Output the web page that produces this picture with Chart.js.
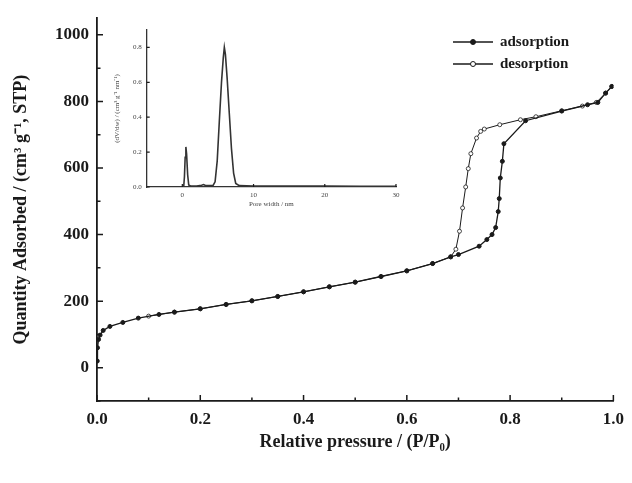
<!DOCTYPE html>
<html>
<head>
<meta charset="utf-8">
<script src="https://cdn.jsdelivr.net/npm/chart.js@4.4.1/dist/chart.umd.min.js"></script>
<style>
  body { margin: 0; background: #fff; }
  #wrap { position: relative; width: 632px; height: 483px; }
  #main { position: absolute; left: 0; top: 0; }
  #inset { position: absolute; left: 100px; top: 20px; }
</style>
</head>
<body>
<div id="wrap">
  <canvas id="main" width="632" height="483"></canvas>
  <canvas id="inset" width="305" height="200"></canvas>
</div>
<script>
// isotherm, adsorption branch (P/P0, cm3/g)
const adsX = [0.0005, 0.001, 0.003, 0.006, 0.012, 0.025, 0.05, 0.08, 0.12, 0.15, 0.2, 0.25, 0.3, 0.35, 0.4, 0.45, 0.5, 0.55, 0.6, 0.65, 0.685, 0.7, 0.74, 0.755, 0.765, 0.772, 0.777, 0.779, 0.781, 0.785, 0.788, 0.83, 0.9, 0.95, 0.97, 0.985, 0.997];
const adsY = [20, 60, 85, 98, 112, 124, 136, 149, 160, 167, 177, 190, 201, 214, 228, 243, 257, 274, 291, 313, 333, 340, 365, 385, 400, 421, 469, 508, 570, 620, 673, 742, 771, 790, 797, 825, 845];
// desorption branch
const desX = [0.997, 0.985, 0.967, 0.94, 0.9, 0.85, 0.82, 0.78, 0.75, 0.743, 0.735, 0.724, 0.719, 0.714, 0.708, 0.702, 0.695, 0.685, 0.65, 0.6, 0.55, 0.5, 0.45, 0.4, 0.35, 0.3, 0.25, 0.2, 0.15, 0.1];
const desY = [845, 825, 797, 786, 772, 754, 745, 730, 717, 710, 690, 643, 598, 543, 480, 410, 356, 333, 313, 291, 274, 257, 243, 228, 214, 201, 190, 177, 167, 155];

// pore size distribution (inset)
const poreW = [0.2, 0.3, 0.4, 0.5, 0.6, 0.75, 0.9, 1.2, 2, 2.7, 3, 3.3, 4.3, 4.6, 4.9, 5.2, 5.5, 5.75, 5.9, 6.05, 6.3, 6.6, 6.9, 7.2, 7.5, 8, 10, 15, 20, 25, 30];
const poreDV = [0.004, 0.06, 0.17, 0.23, 0.19, 0.07, 0.012, 0.005, 0.006, 0.01, 0.014, 0.008, 0.008, 0.03, 0.15, 0.38, 0.6, 0.74, 0.8, 0.76, 0.62, 0.42, 0.22, 0.08, 0.02, 0.008, 0.006, 0.005, 0.006, 0.004, 0.004];

// tick positions
const xMajor = [0, 0.2, 0.4, 0.6, 0.8, 1.0];
const xMinor = [0.1, 0.3, 0.5, 0.7, 0.9];
const yMajor = [0, 200, 400, 600, 800, 1000];
const yMinor = [-100, 100, 300, 500, 700, 900];
const insetXTicks = [0, 10, 20, 30];
const insetYTicks = [0, 0.2, 0.4, 0.6, 0.8];

const serif = '"Liberation Serif", "Times New Roman", serif';
const ink = '#1a1a1a';

function pts(xs, ys) {
    return xs.map((x, i) => ({x: x, y: ys[i]}));
}

// ticks pointing into the plot, like the origin-style axes
const inwardTicks = {
    id: 'inwardTicks',
    afterDraw(chart, args, opts) {
        const {ctx, scales: {x, y}} = chart;
        ctx.save();
        ctx.strokeStyle = ink;
        ctx.lineWidth = opts.width;
        ctx.beginPath();
        const tick = (vals, len, horiz) => vals.forEach(v => {
            if (horiz) {
                const px = x.getPixelForValue(v);
                ctx.moveTo(px, x.top);
                ctx.lineTo(px, x.top - len);
            } else {
                const py = y.getPixelForValue(v);
                ctx.moveTo(y.right, py);
                ctx.lineTo(y.right + len, py);
            }
        });
        tick(opts.xMajor, opts.major, true);
        tick(opts.xMinor, opts.minor, true);
        tick(opts.yMajor, opts.major, false);
        tick(opts.yMinor, opts.minor, false);
        ctx.stroke();
        ctx.restore();
    }
};

// legend in the upper right corner
const cornerLegend = {
    id: 'cornerLegend',
    afterDraw(chart) {
        const ctx = chart.ctx;
        const x0 = 453, x1 = 493, tx = 500;
        const rows = [{y: 42, label: 'adsorption', fill: ink}, {y: 64, label: 'desorption', fill: '#fff'}];
        ctx.save();
        ctx.font = 'bold 15px ' + serif;
        ctx.textBaseline = 'middle';
        rows.forEach(r => {
            ctx.strokeStyle = ink;
            ctx.lineWidth = 1.6;
            ctx.beginPath();
            ctx.moveTo(x0, r.y);
            ctx.lineTo(x1, r.y);
            ctx.stroke();
            ctx.beginPath();
            ctx.arc((x0 + x1) / 2, r.y, 2.5, 0, Math.PI * 2);
            ctx.fillStyle = r.fill;
            ctx.fill();
            ctx.lineWidth = 1;
            ctx.stroke();
            ctx.fillStyle = ink;
            ctx.fillText(r.label, tx, r.y);
        });
        ctx.restore();
    }
};

new Chart(document.getElementById('main'), {
    type: 'line',
    data: {
        datasets: [{
            label: 'adsorption',
            data: pts(adsX, adsY),
            borderColor: ink,
            borderWidth: 1.3,
            pointRadius: 2,
            pointBackgroundColor: ink,
            pointBorderColor: ink,
            pointBorderWidth: 1,
            tension: 0
        }, {
            label: 'desorption',
            data: pts(desX, desY),
            borderColor: ink,
            borderWidth: 1,
            pointRadius: 2,
            pointBackgroundColor: '#fff',
            pointBorderColor: ink,
            pointBorderWidth: 0.8,
            tension: 0
        }]
    },
    options: {
        responsive: false,
        animation: false,
        layout: {padding: {top: 14, right: 15, left: 0, bottom: 0}},
        plugins: {
            legend: {display: false},
            tooltip: {enabled: false},
            inwardTicks: {xMajor, xMinor, yMajor, yMinor, major: 6, minor: 3.5, width: 1.5}
        },
        scales: {
            x: {
                type: 'linear',
                min: 0,
                max: 1.0,
                afterBuildTicks: s => { s.ticks = xMajor.map(v => ({value: v})); },
                afterFit: s => { s.height = 82; },
                grid: {display: false, drawTicks: false},
                border: {display: true, color: ink, width: 1.8},
                ticks: {
                    padding: 8,
                    color: ink,
                    font: {family: serif, size: 17, weight: 'bold'},
                    maxRotation: 0,
                    callback: v => v.toFixed(1)
                },
                title: {
                    display: true,
                    text: 'Relative pressure / (P/P\u2080)',
                    color: ink,
                    font: {family: serif, size: 18, weight: 'bold'},
                    padding: {top: 0, bottom: 30}
                }
            },
            y: {
                min: -100,
                max: 1050,
                afterBuildTicks: s => { s.ticks = yMajor.map(v => ({value: v})); },
                afterFit: s => { s.width = 97; },
                grid: {display: false, drawTicks: false},
                border: {display: true, color: ink, width: 1.8},
                ticks: {
                    padding: 8,
                    color: ink,
                    font: {family: serif, size: 17, weight: 'bold'},
                    callback: v => String(v)
                },
                title: {
                    display: true,
                    text: 'Quantity Adsorbed / (cm\u00b3 g\u207b\u00b9, STP)',
                    color: ink,
                    font: {family: serif, size: 18, weight: 'bold'},
                    padding: {top: 11, bottom: 0}
                }
            }
        }
    },
    plugins: [inwardTicks, cornerLegend]
});

new Chart(document.getElementById('inset'), {
    type: 'line',
    data: {
        datasets: [{
            data: pts(poreW, poreDV),
            borderColor: '#333',
            borderWidth: 1.6,
            pointRadius: 0,
            tension: 0
        }]
    },
    options: {
        responsive: false,
        animation: false,
        layout: {padding: {top: 10, right: 9, left: 0, bottom: 0}},
        plugins: {
            legend: {display: false},
            tooltip: {enabled: false},
            inwardTicks: {xMajor: insetXTicks, xMinor: [], yMajor: insetYTicks, yMinor: [], major: 3, minor: 2, width: 1.2}
        },
        scales: {
            x: {
                type: 'linear',
                min: -5,
                max: 30,
                afterBuildTicks: s => { s.ticks = insetXTicks.map(v => ({value: v})); },
                afterFit: s => { s.height = 33; },
                grid: {display: false, drawTicks: false},
                border: {display: true, color: '#333', width: 1.3},
                ticks: {padding: 4, color: '#444', font: {family: serif, size: 7}, maxRotation: 0},
                title: {
                    display: true,
                    text: 'Pore width / nm',
                    color: '#444',
                    font: {family: serif, size: 7},
                    padding: {top: 0, bottom: 12}
                }
            },
            y: {
                min: 0,
                max: 0.9,
                afterBuildTicks: s => { s.ticks = insetYTicks.map(v => ({value: v})); },
                afterFit: s => { s.width = 46.7; },
                grid: {display: false, drawTicks: false},
                border: {display: true, color: '#333', width: 1.3},
                ticks: {padding: 5, color: '#444', font: {family: serif, size: 7}, callback: v => v.toFixed(1)},
                title: {
                    display: true,
                    text: '(dV/dw) / (cm\u00b3 g\u207b\u00b9 nm\u207b\u00b9)',
                    color: '#444',
                    font: {family: serif, size: 7},
                    padding: {top: 13, bottom: 0}
                }
            }
        }
    },
    plugins: [inwardTicks]
});
</script>
</body>
</html>
